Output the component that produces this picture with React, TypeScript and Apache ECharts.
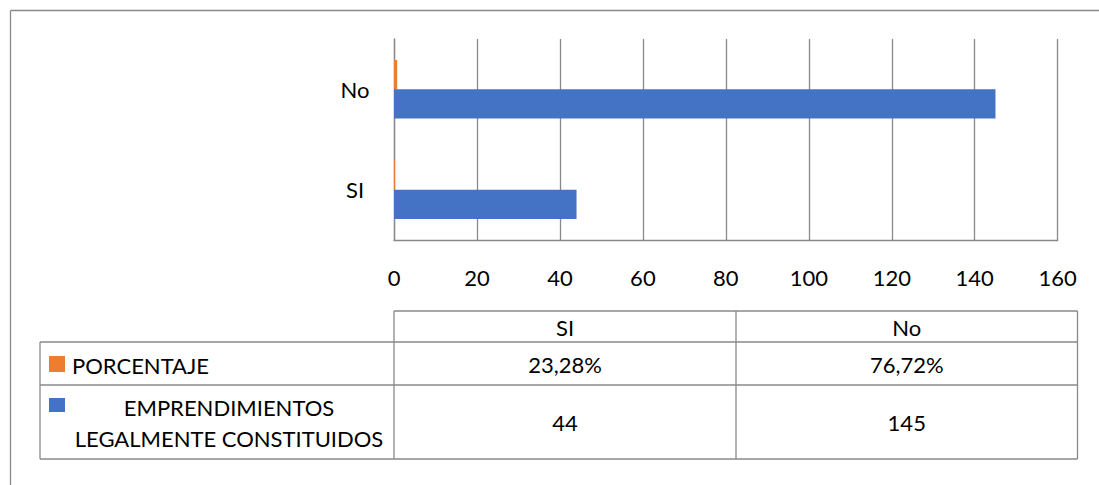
import React, { useEffect, useRef } from "react";
import * as echarts from "echarts";

const categories = ["SI", "No"];
const porcentaje = [23.28, 76.72];
const emprendimientos = [44, 145];
const seriesNames = ["PORCENTAJE", "EMPRENDIMIENTOS LEGALMENTE CONSTITUIDOS"];
const legendLines = [["PORCENTAJE"], ["EMPRENDIMIENTOS", "LEGALMENTE CONSTITUIDOS"]];
const xMin = 0;
const xMax = 160;
const xInterval = 20;

const BLUE = "#4472C4";
const ORANGE = "#ED7D31";
const GRAY = "#898989";
const FONT = "Lato";
const FS = 22;

const fmtPct = (v: number) => v.toFixed(2).replace(".", ",") + "%";

export default function App() {
  const ref = useRef<HTMLDivElement>(null);
  useEffect(() => {
    if (!ref.current) return;
    const chart = echarts.init(ref.current, undefined, { renderer: "svg" });

    const line = (x1: number, y1: number, x2: number, y2: number) => ({
      type: "line",
      shape: { x1, y1, x2, y2 },
      style: { stroke: GRAY, lineWidth: 1.3 },
      silent: true,
    });
    const text = (x: number, y: number, t: string, align = "center") => ({
      type: "text",
      x,
      y,
      style: {
        text: t,
        fontSize: FS,
        fontFamily: FONT,
        fill: "#000",
        align,
        verticalAlign: "middle",
      },
      silent: true,
    });

    // table geometry
    const colX = [40, 394, 736, 1077.5];
    const rowY = [311, 342, 385, 459];
    const rowCenters = [327, 364, 422];
    const colCenters = [(colX[1] + colX[2]) / 2, (colX[2] + colX[3]) / 2];

    const graphics: any[] = [
      // outer frame
      line(10.5, 10.5, 1099, 10.5),
      line(10.5, 10.5, 10.5, 485),
      // table lines
      line(colX[1], rowY[0], colX[3], rowY[0]),
      line(colX[0], rowY[1], colX[3], rowY[1]),
      line(colX[0], rowY[2], colX[3], rowY[2]),
      line(colX[0], rowY[3], colX[3], rowY[3]),
      line(colX[0], rowY[1], colX[0], rowY[3]),
      line(colX[1], rowY[0], colX[1], rowY[3]),
      line(colX[2], rowY[0], colX[2], rowY[3]),
      line(colX[3], rowY[0], colX[3], rowY[3]),
    ];
    categories.forEach((c, i) => {
      graphics.push(text(colCenters[i], rowCenters[0], c));
      graphics.push(text(colCenters[i], rowCenters[1], fmtPct(porcentaje[i])));
      graphics.push(text(colCenters[i], rowCenters[2], String(emprendimientos[i])));
    });
    // legend keys
    graphics.push({
      type: "rect",
      shape: { x: 49, y: 356, width: 16, height: 16 },
      style: { fill: ORANGE },
      silent: true,
    });
    graphics.push({
      type: "rect",
      shape: { x: 49, y: 398, width: 16, height: 14 },
      style: { fill: BLUE },
      silent: true,
    });
    graphics.push(text(72, 365, legendLines[0][0], "left"));
    graphics.push(text(229, 407, legendLines[1][0]));
    graphics.push(text(229, 438, legendLines[1][1]));

    chart.setOption({
      animation: false,
      grid: { left: 394, top: 39, width: 663.7, height: 201, containLabel: false },
      xAxis: {
        type: "value",
        min: xMin,
        max: xMax,
        interval: xInterval,
        axisLine: { show: true, lineStyle: { color: GRAY, width: 1.3 } },
        axisTick: { show: false },
        splitLine: { show: true, lineStyle: { color: GRAY, width: 1.3 } },
        axisLabel: { fontSize: FS, color: "#000", margin: 26, fontFamily: FONT },
      },
      yAxis: {
        type: "category",
        data: categories,
        axisLine: { show: true, lineStyle: { color: GRAY, width: 1.3 } },
        axisTick: { show: false },
        axisLabel: { fontSize: FS, color: "#000", margin: 39, align: "center", fontFamily: FONT },
      },
      series: [
        {
          name: seriesNames[0],
          type: "bar",
          data: porcentaje.map((v) => v / 100),
          itemStyle: { color: ORANGE },
          barGap: "0%",
          barCategoryGap: "42%",
        },
        {
          name: seriesNames[1],
          type: "bar",
          data: emprendimientos,
          itemStyle: { color: BLUE },
          barGap: "0%",
          barCategoryGap: "42%",
        },
      ],
      graphic: graphics,
    });
    return () => chart.dispose();
  }, []);
  return (
    <div
      ref={ref}
      style={{ position: "absolute", left: 0, top: 0, width: 1099, height: 485, background: "#fff" }}
    />
  );
}
